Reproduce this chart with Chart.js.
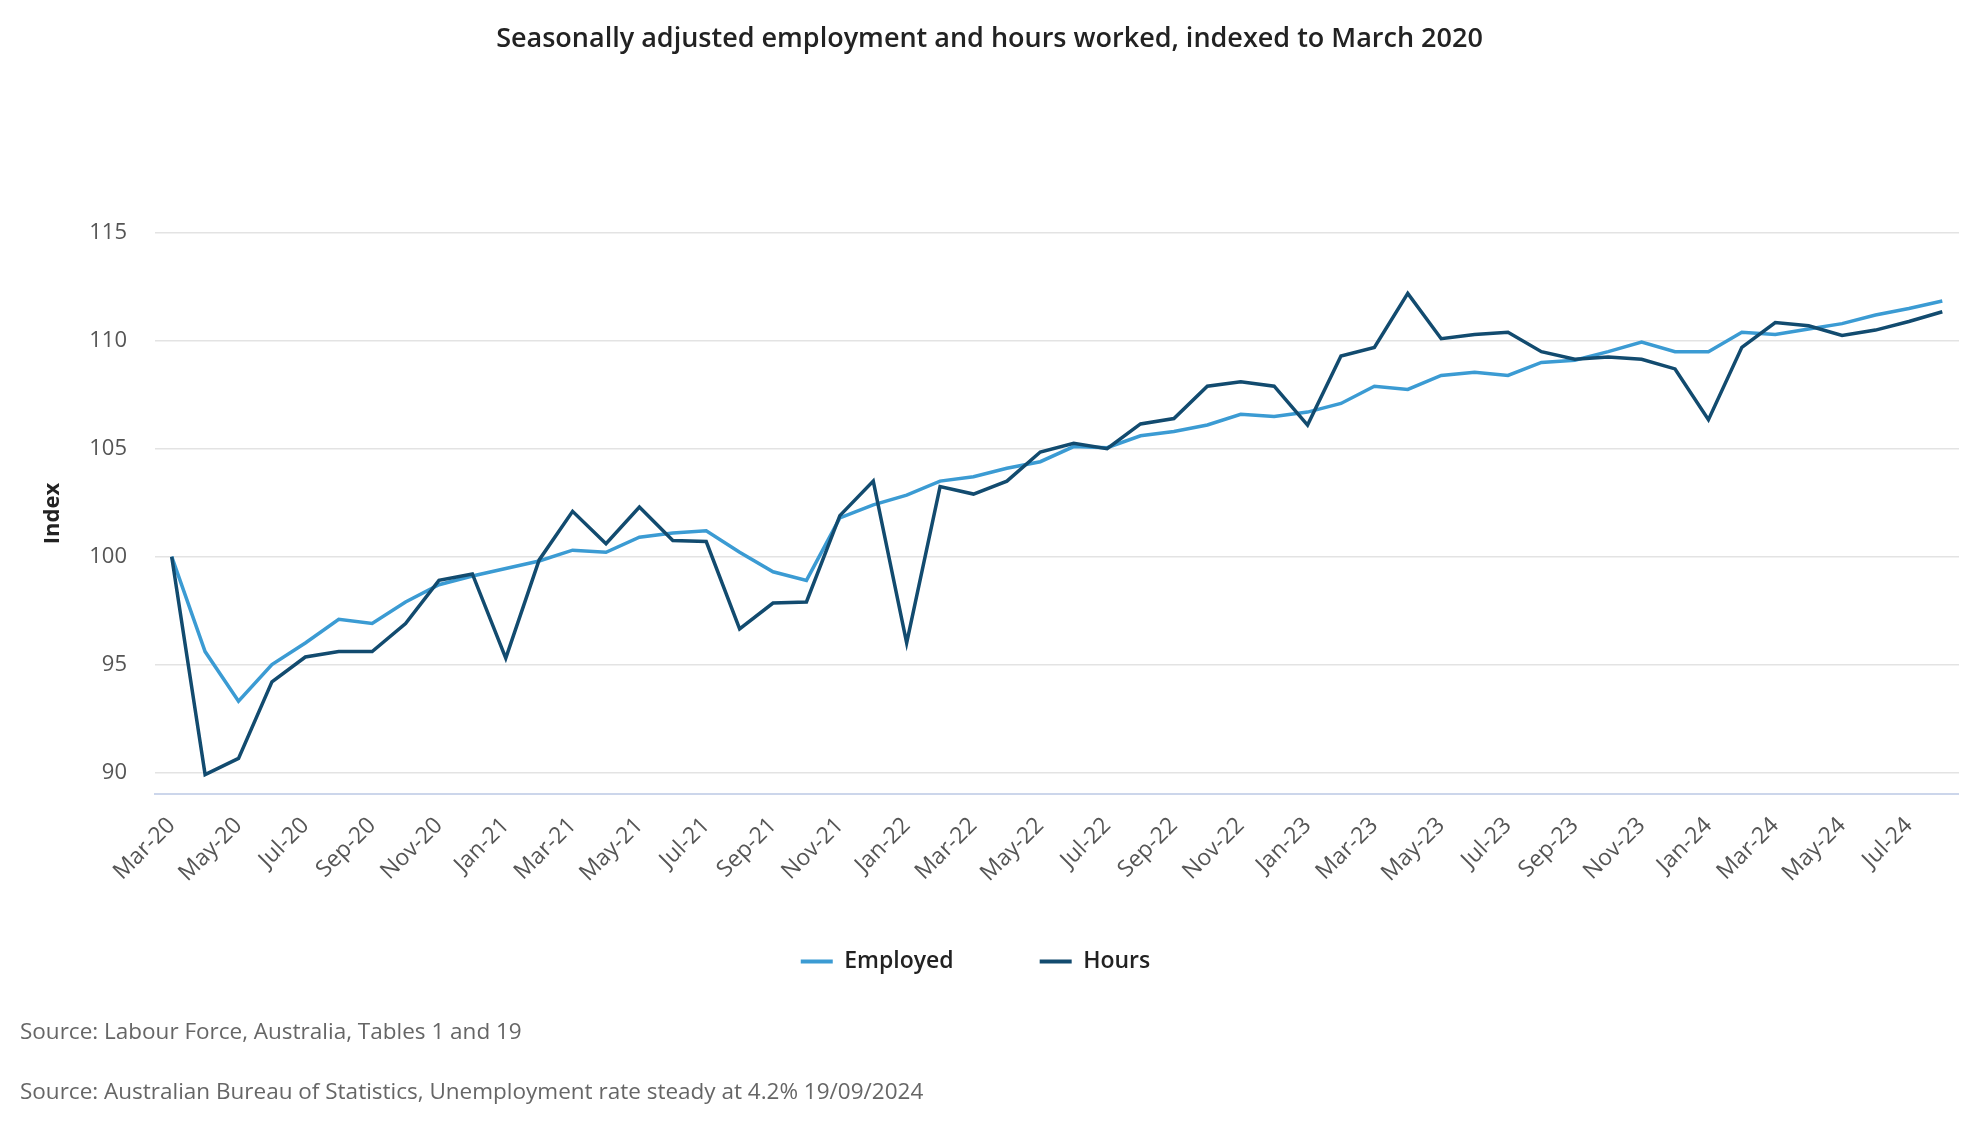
<!DOCTYPE html>
<html>
<head>
<meta charset="utf-8">
<script src="https://cdn.jsdelivr.net/npm/chart.js@4.4.1/dist/chart.umd.min.js"></script>
<style>
  html, body { margin: 0; padding: 0; background: #ffffff; }
  #wrap { position: relative; width: 1980px; height: 1140px; }
  #chart { position: absolute; left: 0; top: 0; }
  .foot { position: absolute; left: 20px; font-family: 'Open Sans', sans-serif; font-size: 22.5px; line-height: 26px; color: #666666; white-space: nowrap; }
</style>
</head>
<body>
<div id="wrap">
  <canvas id="chart" width="1980" height="1140"></canvas>
  <div class="foot" style="top:1018px">Source: Labour Force, Australia, Tables 1 and 19</div>
  <div class="foot" style="top:1078px">Source: Australian Bureau of Statistics, Unemployment rate steady at 4.2% 19/09/2024</div>
</div>
<script>
const titleText = 'Seasonally adjusted employment and hours worked, indexed to March 2020';
const yAxisTitle = 'Index';

const months = [
  'Mar-20','Apr-20','May-20','Jun-20','Jul-20','Aug-20','Sep-20','Oct-20','Nov-20','Dec-20',
  'Jan-21','Feb-21','Mar-21','Apr-21','May-21','Jun-21','Jul-21','Aug-21','Sep-21','Oct-21','Nov-21','Dec-21',
  'Jan-22','Feb-22','Mar-22','Apr-22','May-22','Jun-22','Jul-22','Aug-22','Sep-22','Oct-22','Nov-22','Dec-22',
  'Jan-23','Feb-23','Mar-23','Apr-23','May-23','Jun-23','Jul-23','Aug-23','Sep-23','Oct-23','Nov-23','Dec-23',
  'Jan-24','Feb-24','Mar-24','Apr-24','May-24','Jun-24','Jul-24','Aug-24'
];

const employed = [
  100, 95.6, 93.3, 95.0, 96.0, 97.1, 96.9, 97.9, 98.7, 99.1,
  99.45, 99.8, 100.3, 100.2, 100.9, 101.1, 101.2, 100.2, 99.3, 98.9, 101.8, 102.4,
  102.85, 103.5, 103.7, 104.1, 104.4, 105.1, 105.05, 105.6, 105.8, 106.1, 106.6, 106.5,
  106.7, 107.1, 107.9, 107.75, 108.4, 108.55, 108.4, 109.0, 109.1, 109.5, 109.95, 109.5,
  109.5, 110.4, 110.3, 110.55, 110.8, 111.2, 111.5, 111.85
];

const hours = [
  100, 89.9, 90.65, 94.2, 95.35, 95.6, 95.6, 96.9, 98.9, 99.2,
  95.3, 99.85, 102.1, 100.6, 102.3, 100.75, 100.7, 96.65, 97.85, 97.9, 101.9, 103.5,
  96.0, 103.25, 102.9, 103.5, 104.85, 105.25, 105.0, 106.15, 106.4, 107.9, 108.1, 107.9,
  106.1, 109.3, 109.7, 112.2, 110.1, 110.3, 110.4, 109.5, 109.15, 109.25, 109.15, 108.7,
  106.35, 109.7, 110.85, 110.7, 110.25, 110.5, 110.9, 111.35
];

const yTickValues = [90, 95, 100, 105, 110, 115];

const seriesNames = ['Employed', 'Hours'];
const seriesColors = ['#3b9bd3', '#124b6f'];

Chart.defaults.font.family = "'Open Sans', sans-serif";

const legendShift = {
  id: 'legendShift',
  afterLayout(chart) {
    const lg = chart.legend;
    if (lg) { lg.left -= 14; lg.right -= 14; lg.top -= 30; lg.bottom -= 30; }
  }
};

new Chart(document.getElementById('chart'), {
  type: 'line',
  plugins: [legendShift],
  data: {
    labels: months,
    datasets: [
      { label: seriesNames[0], data: employed, borderColor: seriesColors[0], backgroundColor: seriesColors[0],
        borderWidth: 3.5, pointRadius: 0, pointHoverRadius: 0, tension: 0, order: 2 },
      { label: seriesNames[1], data: hours, borderColor: seriesColors[1], backgroundColor: seriesColors[1],
        borderWidth: 3.5, pointRadius: 0, pointHoverRadius: 0, tension: 0, order: 1 }
    ]
  },
  options: {
    responsive: false,
    animation: false,
    layout: { padding: { left: 20, right: 21, top: 0, bottom: 127 } },
    plugins: {
      title: {
        display: true,
        text: titleText,
        color: '#222222',
        font: { size: 27, weight: '600' },
        padding: { top: 23, bottom: 177.6 }
      },
      legend: {
        position: 'bottom',
        labels: {
          boxWidth: 32,
          boxHeight: 4,
          padding: 86,
          color: '#222222',
          font: { size: 23, weight: '600' },
          sort: (a, b) => a.datasetIndex - b.datasetIndex,
          generateLabels: (chart) => {
            const items = Chart.defaults.plugins.legend.labels.generateLabels(chart);
            items.forEach(it => { it.lineWidth = 0; it.fillStyle = seriesColors[it.datasetIndex]; it.strokeStyle = seriesColors[it.datasetIndex]; });
            return items;
          }
        }
      },
      tooltip: { enabled: false }
    },
    scales: {
      x: {
        offset: true,
        grid: { display: false, drawTicks: false },
        border: { display: true, color: '#ccd6eb', width: 2 },
        ticks: {
          autoSkip: false,
          maxRotation: 45,
          minRotation: 45,
          padding: 18,
          color: '#555555',
          font: { size: 23 },
          callback: function(value, index) { return index % 2 === 0 ? this.getLabelForValue(value) : ''; }
        },
        afterFit: (scale) => { scale.height = 100; }
      },
      y: {
        min: 89,
        max: 115,
        afterBuildTicks: (scale) => { scale.ticks = yTickValues.map(v => ({ value: v })); },
        grid: { color: '#e3e3e3', lineWidth: 1.5, drawTicks: false },
        border: { display: false },
        ticks: { padding: 28, color: '#555555', font: { size: 22 } },
        title: {
          display: true,
          text: yAxisTitle,
          color: '#222222',
          font: { size: 22, weight: 'bold' },
          padding: { top: 20, bottom: 0 }
        },
        afterFit: (scale) => { scale.width = 135; }
      }
    }
  }
});
</script>
</body>
</html>
